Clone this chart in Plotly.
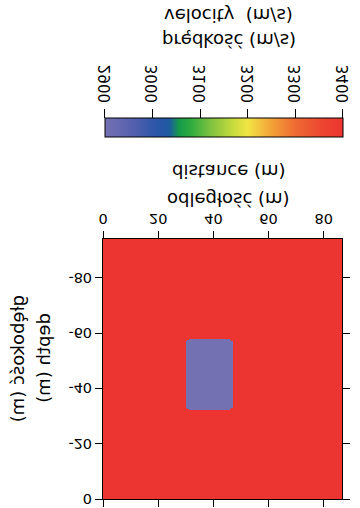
import plotly.graph_objects as go

# ---- data ----
background_velocity = 3400          # m/s
anomaly_velocity = 2900             # m/s
anomaly_distance = [30, 47]         # m (left, right)
anomaly_depth = [32, 58]            # m (top, bottom)
model_width = 87                    # m
model_depth = 94                    # m
cell = 0.5                          # m grid spacing
corner_cut = 1.5                    # m chamfer of the anomaly corners

x_ticks = [0, 20, 40, 60, 80]
y_ticks = [0, -20, -40, -60, -80]
y_tick_text = ["0", "-20", "-40", "-60", "-80"]
cbar_ticks = [2900, 3000, 3100, 3200, 3300, 3400]

# ---- model grid ----
nx = int(model_width / cell)
ny = int(model_depth / cell)
xs = [cell * (i + 0.5) for i in range(nx)]
ys = [-cell * (j + 0.5) for j in range(ny)]
z = []
for yv in ys:
    d = -yv
    row = []
    for xv in xs:
        inside = anomaly_distance[0] <= xv <= anomaly_distance[1] and anomaly_depth[0] <= d <= anomaly_depth[1]
        if inside:
            dx = min(xv - anomaly_distance[0], anomaly_distance[1] - xv)
            dz = min(d - anomaly_depth[0], anomaly_depth[1] - d)
            if dx + dz < corner_cut:
                inside = False
        row.append(anomaly_velocity if inside else background_velocity)
    z.append(row)

colorscale = [
    [0.00, "#7471b3"],
    [0.10, "#5a62ae"],
    [0.22, "#2a55a8"],
    [0.27, "#1f5aa0"],
    [0.31, "#169a4c"],
    [0.36, "#2eaa40"],
    [0.46, "#8cc63f"],
    [0.54, "#c8dc3c"],
    [0.60, "#f1e444"],
    [0.68, "#f3ae3a"],
    [0.80, "#ee6a33"],
    [0.92, "#ec4430"],
    [1.00, "#ec3530"],
]

FONT = "DejaVu Sans, Verdana, sans-serif"
TICK = 14.5

fig = go.Figure(go.Heatmap(
    x=xs, y=ys, z=z, zmin=2900, zmax=3400,
    colorscale=colorscale, zsmooth=False,
    colorbar=dict(
        orientation="h", thickness=19, thicknessmode="pixels",
        lenmode="pixels", len=238, x=0.008, xanchor="left",
        y=-0.392, yanchor="top", xpad=0, ypad=0,
        outlinewidth=1, outlinecolor="black",
        ticks="outside", ticklen=9, tickwidth=1, tickcolor="black",
        tickvals=cbar_ticks, tickangle=-90,
        tickfont=dict(family=FONT, size=15, color="black"),
    ),
    hoverinfo="skip",
))

axis_common = dict(
    showline=True, linewidth=1, linecolor="black", mirror="ticks",
    ticks="outside", ticklen=7, tickwidth=1, tickcolor="black",
    showgrid=False, zeroline=False, automargin=False,
    tickfont=dict(family=FONT, size=TICK, color="black"),
)
fig.update_xaxes(range=[0, 86.6], tickvals=x_ticks, **axis_common)
fig.update_yaxes(range=[-94, 0], tickvals=y_ticks, ticktext=y_tick_text, **axis_common)

def ann(text, x, y, angle=0):
    return dict(text=text, x=x, y=y, xref="paper", yref="paper", showarrow=False,
                xanchor="center", yanchor="middle", textangle=angle,
                font=dict(family=FONT, size=18, color="black"))

fig.update_layout(
    width=360, height=508,
    margin=dict(l=103, r=18, t=9, b=239, autoexpand=False),
    paper_bgcolor="white", plot_bgcolor="white",
    annotations=[
        ann("odległość (m)", 0.527, -0.15),
        ann("distance (m)", 0.527, -0.258),
        ann("prędkość (m/s)", 0.527, -0.765),
        ann("velocity  (m/s)", 0.527, -0.86),
        ann("depth (m)", -0.247, 0.458, -90),
        ann("głębokość (m)", -0.355, 0.458, -90),
    ],
)

flip_js = (
    "document.body.style.margin='0';"
    "var d=document.getElementById('{plot_id}');"
    "d.style.transformOrigin='50% 254px';"
    "d.style.transform='scaleY(-1)';"
)
fig.write_html("out.html", config={"displayModeBar": False}, post_script=flip_js)
